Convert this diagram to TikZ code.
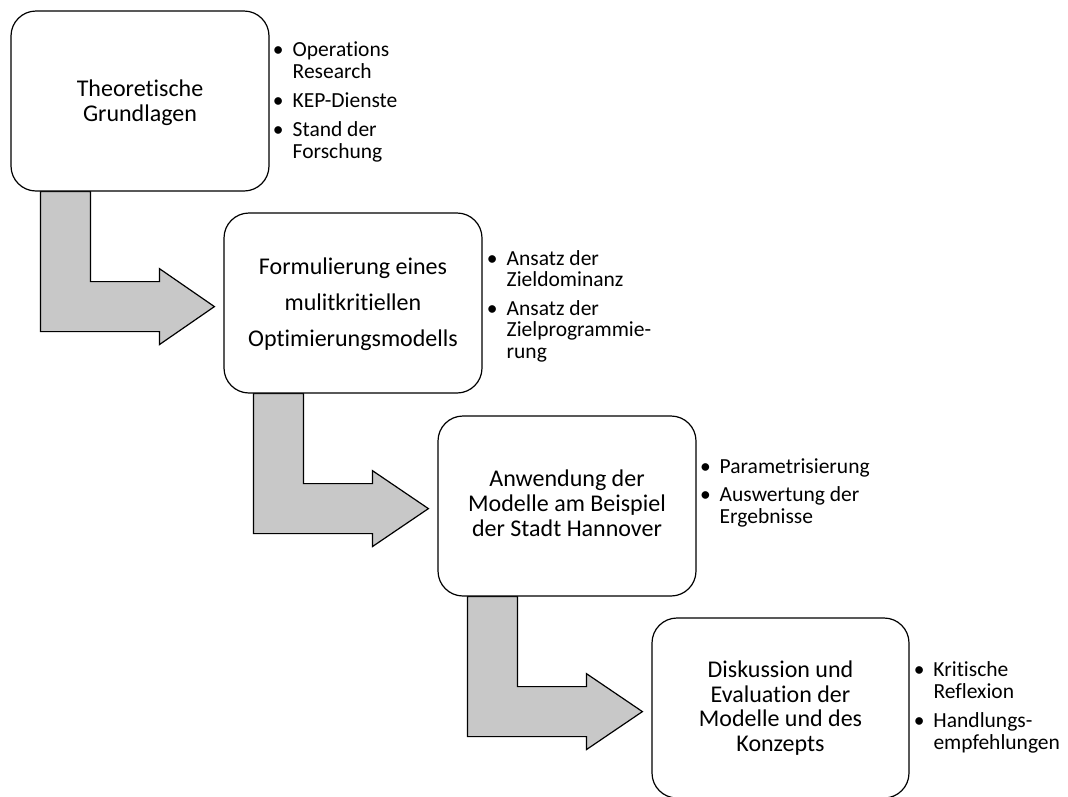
\documentclass[tikz,border=0pt]{standalone}
\usepackage{fontspec}
\setmainfont{Carlito}[Ligatures={NoCommon}]
\usetikzlibrary{calc,backgrounds}
\definecolor{arrowgray}{RGB}{200,200,200}
\tikzset{
  stepbox/.style={draw, line width=1.2pt, fill=white, rounded corners=25pt,
    minimum width=258pt, minimum height=180pt, inner sep=0pt},
  boxtext/.style={anchor=base, inner sep=0pt},
  listtext/.style={anchor=base west, inner sep=0pt},
  blockarr/.style={draw, line width=1.2pt, fill=arrowgray, line join=miter},
}
\newcommand\boxlines[2]{\parbox[t]{256pt}{\centering\lineskiplimit=-60pt\fontsize{24}{#1}\selectfont #2}}
\newcommand\listlines[1]{\parbox[t]{200pt}{\raggedright\lineskiplimit=-60pt\fontsize{21.5}{21.7}\selectfont #1}}
\newcommand\bul{\leavevmode\llap{•\hspace{9pt}}}
\newcommand\blockarrow[2]{%
  \draw[blockarr] let \p1=(#1.south west), \p2=(#2.west) in
    (\x1+30pt,\y1) -- ++(50pt,0pt) -- ++(0pt,-90pt) -- (\x1+149pt,\y1-90pt)
    -- ++(0pt,13pt) -- (\x2-9pt,\y1-115pt) -- (\x1+149pt,\y1-153pt)
    -- ++(0pt,13pt) -- (\x1+30pt,\y1-140pt) -- cycle;}
\begin{document}
\begin{tikzpicture}[x=1pt,y=-1pt]
\useasboundingbox (0,0) rectangle (1068,796);
\clip (0,0) rectangle (1068,796);

% boxes
\node[stepbox] (b1) at (140,101) {};
\node[stepbox] (b2) at (353,303) {};
\node[stepbox] (b3) at (567,506) {};
\node[stepbox, minimum width=257pt] (b4) at (780.5,708) {};

% box texts
\node[boxtext] (t1) at (140,96.7) {\boxlines{25}{Theoretische\\Grundlagen}};
\node[boxtext] (t2) at (353,274) {\boxlines{36}{Formulierung eines\\mulitkritiellen\\Optimierungsmodells}};
\node[boxtext] (t3) at (567,486.7) {\boxlines{25}{Anwendung der\\Modelle am Beispiel\\der Stadt Hannover}};
\node[boxtext] (t4) at (780.5,677.3) {\boxlines{24.8}{Diskussion und\\Evaluation der\\Modelle und des\\Konzepts}};

% bullet lists
\node[listtext] (l1) at (292.5,56.7) {\listlines{\bul Operations\\Research\\[7.3pt]\bul KEP-Dienste\\[7.3pt]\bul Stand der\\Forschung}};
\node[listtext] (l2) at (506.5,265) {\listlines{\bul Ansatz der\\Zieldominanz\\[6.6pt]\bul Ansatz der\\Zielprogrammie-\\rung}};
\node[listtext] (l3) at (719.5,473.3) {\listlines{\bul Parametrisierung\\[6.6pt]\bul Auswertung der\\Ergebnisse}};
\node[listtext] (l4) at (933.3,676.7) {\listlines{\bul Kritische\\Reflexion\\[7.3pt]\bul Handlungs-\\empfehlungen}};

% block arrows behind the boxes
\begin{pgfonlayer}{background}
  \blockarrow{b1}{b2}
  \blockarrow{b2}{b3}
  \blockarrow{b3}{b4}
\end{pgfonlayer}
\end{tikzpicture}
\end{document}
